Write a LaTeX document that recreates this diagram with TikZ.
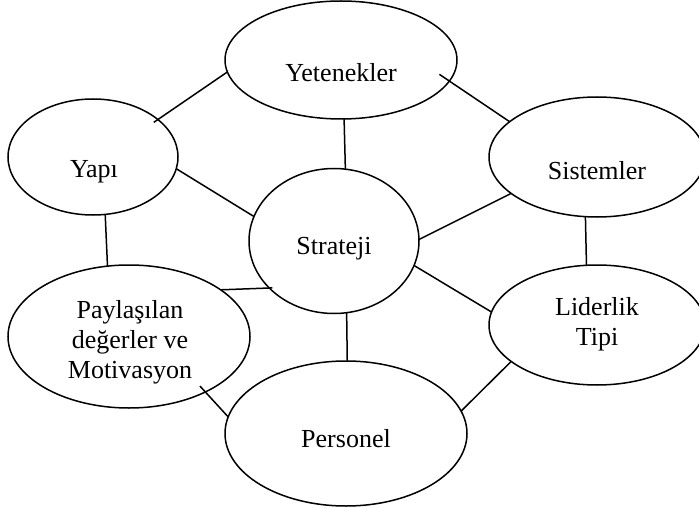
\documentclass[tikz,border=0pt]{standalone}
\usepackage{fontspec}
\setmainfont{Liberation Serif}
\usetikzlibrary{shapes.geometric}
\begin{document}
\begin{tikzpicture}[x=1pt,y=-1pt,
  oval/.style={ellipse,draw,line width=1.5pt,inner sep=0pt,outer sep=0pt},
  lbl/.style={font=\fontsize{26}{30}\selectfont,inner sep=0pt,anchor=base,align=center},
  link/.style={line width=1.5pt}]
\useasboundingbox (0,0) rectangle (699,508);
% ellipses
\node[oval,minimum width=232pt,minimum height=118pt] (yet) at (341,60) {};
\node[oval,minimum width=170pt,minimum height=116pt] (yapi) at (93,157) {};
\node[oval,minimum width=216pt,minimum height=120pt] (sis) at (597,157) {};
\node[oval,minimum width=170pt,minimum height=145pt] (str) at (334,241) {};
\node[oval,minimum width=242pt,minimum height=143pt] (pay) at (129,336.5) {};
\node[oval,minimum width=216pt,minimum height=120pt] (lid) at (597,325) {};
\node[oval,minimum width=242pt,minimum height=145pt] (per) at (346,433.5) {};
% texts
\node[lbl] (yetT) at (341,82) {Yetenekler};
\node[lbl] (yapiT) at (94,178) {Yapı};
\node[lbl] (strT) at (334,254) {Strateji};
\node[lbl] (sisT) at (597,179) {Sistemler};
\node[lbl] (lidT) at (597,345) {Liderlik\\Tipi};
\node[lbl] (payT) at (130,378) {Paylaşılan\\değerler ve\\Motivasyon};
\node[lbl] (perT) at (346,447) {Personel};
% connectors
\draw[link,shorten <=-5pt] (yapi.30.3) -- (yet.186.4);
\draw[link] (yapi.352.5) -- (str.163.7);
\draw[link] (yet.273.9) -- (str.81.3);
\draw[link] (yapi.282.6) -- (pay.107.8);
\draw[link,shorten <=-12pt] (yet.349.8) -- (sis.158.5);
\draw[link] (sis.203.2) -- (str.1.4);
\draw[link] (sis.259.6) -- (lid.100.4);
\draw[link,shorten >=-3pt] (pay.27.6) -- (str.216.9);
\draw[link] (str.280.2) -- (per.89.2);
\draw[link,shorten <=-8pt] (pay.324.9) -- (per.172.5);
\draw[link] (str.343.9) -- (lid.173.5);
\draw[link] (lid.203.8) -- (per.11.6);
\end{tikzpicture}
\end{document}
